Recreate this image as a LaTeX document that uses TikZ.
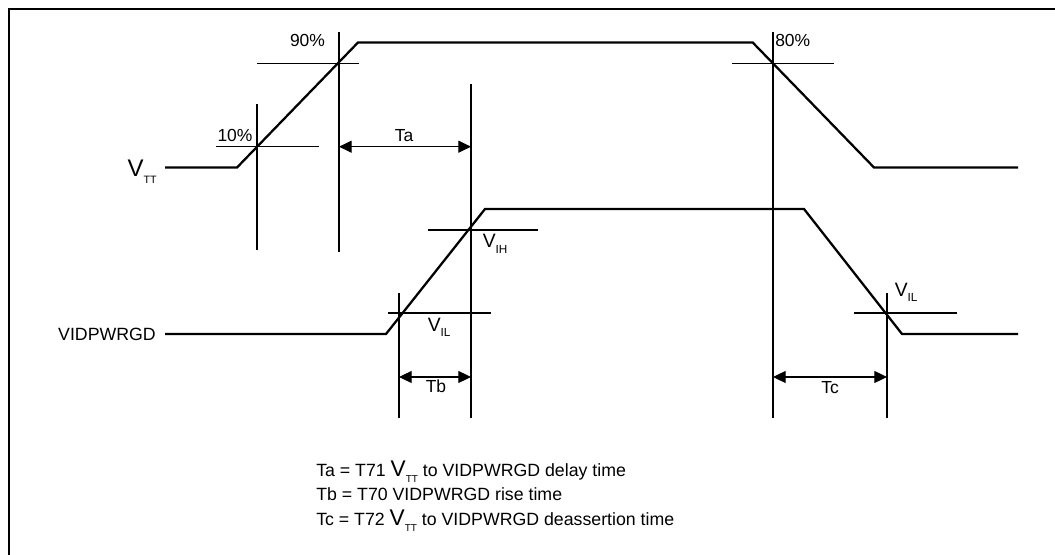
\documentclass[tikz,border=0pt]{standalone}
\usepackage{fontspec}
\setmainfont{Liberation Sans}
\usetikzlibrary{arrows.meta}
\newcommand{\Vsb}[4]{{\fontsize{#1}{#1}\selectfont V}\raisebox{-#4}{\fontsize{#3}{#3}\selectfont #2}}
\begin{document}
\begin{tikzpicture}[x=0.75pt,y=-0.75pt,
  sigline/.style={line width=1.7pt,line join=miter},
  thinline/.style={line width=0.8pt},
  frameline/.style={line width=1.6pt},
  dimline/.style={line width=0.8pt,{Triangle[length=9.5pt,width=9pt]}-{Triangle[length=9.5pt,width=9pt]}},
  lbl/.style={inner sep=0pt,anchor=base,font=\fontsize{13.1pt}{13.1pt}\selectfont},
  lbll/.style={inner sep=0pt,anchor=base west,font=\fontsize{13.1pt}{13.1pt}\selectfont},
  lgd/.style={inner sep=0pt,anchor=base west,font=\fontsize{13.3pt}{13.3pt}\selectfont}]
\useasboundingbox (0,0) rectangle (1055,555);
% frame (top and left edges)
\coordinate (fTR) at (1055,9);
\coordinate (fTL) at (9,9);
\coordinate (fBL) at (9,555);
\draw[frameline] (fTR) -- (fTL) -- (fBL);
% V_TT signal
\coordinate (a0) at (165,167.5);
\coordinate (a1) at (237,167.5);
\coordinate (a2) at (358,42.5);
\coordinate (a3) at (752.7,42.5);
\coordinate (a4) at (874,167.5);
\coordinate (a5) at (1018,167.5);
\draw[sigline] (a0) -- (a1) -- (a2) -- (a3) -- (a4) -- (a5);
% VIDPWRGD signal
\coordinate (b0) at (165,334);
\coordinate (b1) at (386,334);
\coordinate (b2) at (485,209);
\coordinate (b3) at (804,209);
\coordinate (b4) at (902,334);
\coordinate (b5) at (1018,334);
\draw[sigline] (b0) -- (b1) -- (b2) -- (b3) -- (b4) -- (b5);
% 10% crosshair
\coordinate (p10t) at (257,104); \coordinate (p10b) at (257,250);
\coordinate (p10l) at (216,146.7); \coordinate (p10r) at (319,146.7);
\draw[thinline] (p10t) -- (p10b);
\draw[thinline] (p10l) -- (p10r);
% 90% crosshair
\coordinate (p90t) at (339,32); \coordinate (p90b) at (339,252);
\coordinate (p90l) at (257,63.3); \coordinate (p90r) at (359,63.3);
\draw[thinline] (p90t) -- (p90b);
\draw[thinline] (p90l) -- (p90r);
% Ta / VIH line
\coordinate (pat) at (471,84); \coordinate (pab) at (471,418);
\coordinate (pihl) at (428,230); \coordinate (pihr) at (538,230);
\draw[thinline] (pat) -- (pab);
\draw[thinline] (pihl) -- (pihr);
% VIL rising
\coordinate (pilt) at (399,293); \coordinate (pilb) at (399,418);
\coordinate (pill) at (388,313); \coordinate (pilr) at (491,313);
\draw[thinline] (pilt) -- (pilb);
\draw[thinline] (pill) -- (pilr);
% 80% crosshair
\coordinate (p80t) at (773,32); \coordinate (p80b) at (773,418);
\coordinate (p80l) at (732,63.3); \coordinate (p80r) at (834,63.3);
\draw[thinline] (p80t) -- (p80b);
\draw[thinline] (p80l) -- (p80r);
% VIL falling
\coordinate (pfit) at (887,293); \coordinate (pfib) at (887,418);
\coordinate (pfil) at (854,313); \coordinate (pfir) at (957,313);
\draw[thinline] (pfit) -- (pfib);
\draw[thinline] (pfil) -- (pfir);
% dimension arrows
\coordinate (taL) at (339,146.7); \coordinate (taR) at (471,146.7);
\coordinate (tbL) at (399,377); \coordinate (tbR) at (471,377);
\coordinate (tcL) at (773,377); \coordinate (tcR) at (887,377);
\draw[dimline] (taL) -- (taR);
\draw[dimline] (tbL) -- (tbR);
\draw[dimline] (tcL) -- (tcR);
% labels
\node[lbl] (l10) at (235,141.7) {10\%};
\node[lbl] (l90) at (307.5,47) {90\%};
\node[lbll] (l80) at (775,47) {80\%};
\node[lbl] (lta) at (404,141.7) {Ta};
\node[lbl] (ltb) at (436,392.7) {Tb};
\node[lbl] (ltc) at (830,393) {Tc};
\node[inner sep=0pt,anchor=base west] (lvih) at (482.5,248) {\Vsb{14.5pt}{IH}{8.8pt}{3.8pt}};
\node[inner sep=0pt,anchor=base west] (lvil1) at (427.5,331.7) {\Vsb{14.5pt}{IL}{8.8pt}{3.8pt}};
\node[inner sep=0pt,anchor=base west] (lvil2) at (894.5,296.7) {\Vsb{14.5pt}{IL}{8.8pt}{3.8pt}};
\node[inner sep=0pt,anchor=base east] (lvtt) at (157,176.7) {\Vsb{18pt}{TT}{8pt}{5pt}};
\node[inner sep=0pt,anchor=base east,font=\fontsize{13.3pt}{13.3pt}\selectfont] (lvid) at (156,340.7) {VIDPWRGD};
% legend
\node[lgd] (lg1) at (316,476) {Ta = T71 \Vsb{17pt}{TT}{7.5pt}{5pt} to VIDPWRGD delay time};
\node[lgd] (lg2) at (316,500) {Tb = T70 VIDPWRGD rise time};
\node[lgd] (lg3) at (316,525) {Tc = T72 \Vsb{17pt}{TT}{7.5pt}{5pt} to VIDPWRGD deassertion time};
\end{tikzpicture}
\end{document}
